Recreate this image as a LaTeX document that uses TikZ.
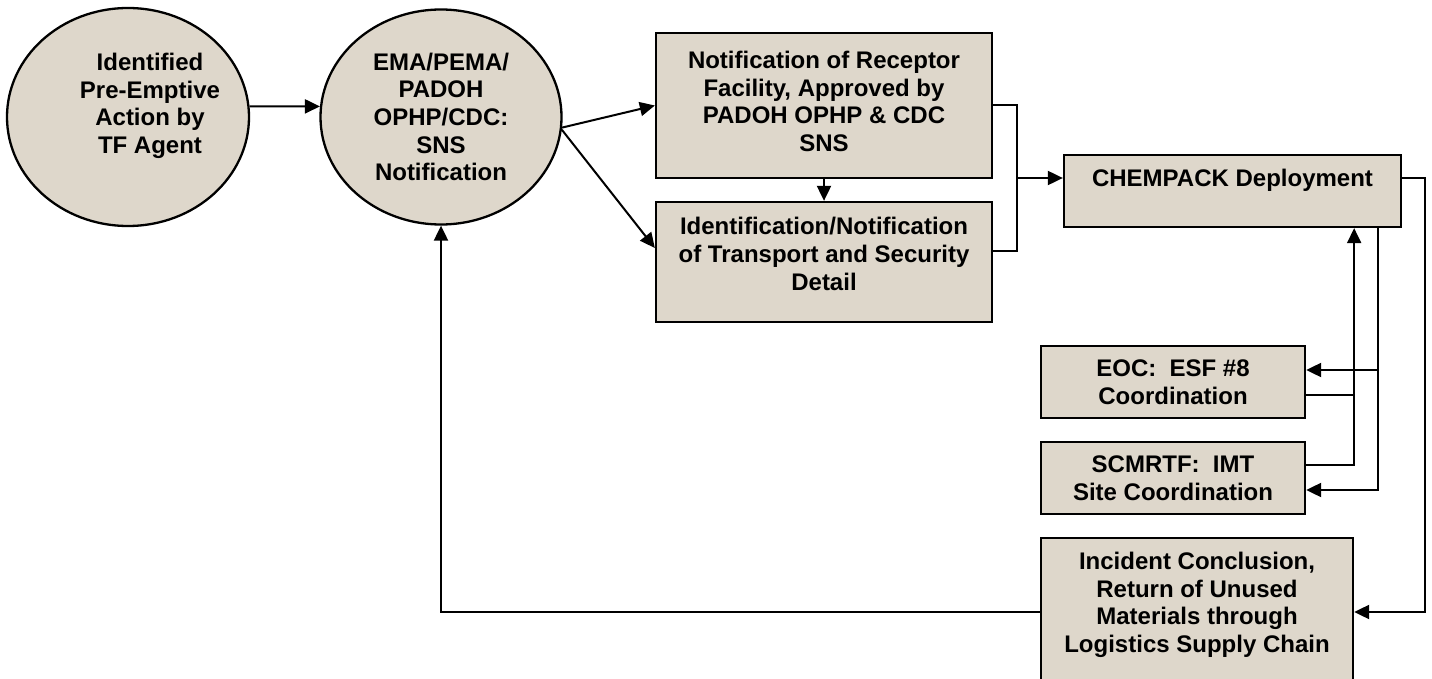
\documentclass[tikz,border=0pt]{standalone}
\usepackage{fontspec}
\setmainfont{Liberation Sans}
\usetikzlibrary{shapes.geometric,arrows.meta,calc}
\definecolor{parch}{RGB}{222,215,203}
\begin{document}
\begin{tikzpicture}[x=1pt,y=-1pt,
  shapebox/.style={draw=black, line width=2.3pt, fill=parch, inner sep=0pt},
  oval/.style={shapebox, ellipse, minimum width=242pt, minimum height=218pt},
  rect/.style={shapebox, rectangle},
  lbl/.style={font=\bfseries\fontsize{24}{27.6}\selectfont, align=center, inner sep=0pt},
  arr/.style={line width=2pt, -{Triangle[length=15pt,width=14pt]}},
  ln/.style={line width=2pt}]
\useasboundingbox (0,0) rectangle (1432,679);
\node[oval, label={[lbl,xshift=22pt,yshift=11pt]center:{Identified\\Pre-Emptive\\Action by\\TF Agent}}] (E1) at (128,117) {};
\node[oval, minimum width=241pt, minimum height=215pt, label={[lbl]center:{EMA/PEMA/\\PADOH\\OPHP/CDC:\\SNS\\Notification}}] (E2) at (441,117) {};
\node[rect, minimum width=336pt, minimum height=145pt, label={[lbl,yshift=4pt]center:{Notification of Receptor\\Facility, Approved by\\PADOH OPHP \& CDC\\SNS}}] (B1) at (824,105.5) {};
\node[rect, minimum width=336pt, minimum height=120pt, label={[lbl,yshift=8pt]center:{Identification/Notification\\of Transport and Security\\Detail}}] (B2) at (824,262) {};
\node[rect, minimum width=337pt, minimum height=72pt, label={[lbl,yshift=11pt]center:{CHEMPACK Deployment}}] (B3) at (1232.5,191) {};
\node[rect, minimum width=264pt, minimum height=72pt, label={[lbl]center:{EOC:\ \ ESF \#8\\Coordination}}] (B4) at (1173,382) {};
\node[rect, minimum width=264pt, minimum height=72pt, label={[lbl]center:{SCMRTF:\ \ IMT\\Site Coordination}}] (B5) at (1173,478) {};
\node[rect, minimum width=312pt, minimum height=148pt, label={[lbl,yshift=7pt]center:{Incident Conclusion,\\Return of Unused\\Materials through\\Logistics Supply Chain}}] (B6) at (1197,612) {};

\draw[arr] (E1.5) -- (E2.175);
\draw[arr] (E2.-5) -- (B1.west);
\draw[arr] (E2.-6) -- ([yshift=14pt]B2.west);
\draw[arr] (B1.south) -- (B2.north);
\coordinate (J) at (1017,178);
\draw[ln] (B1.east) -| (J);
\draw[ln] ([yshift=11pt]B2.east) -| (J);
\draw[arr] (J) -- (J -| B3.west);
\draw[arr] ([yshift=13pt]B3.east) -- ++(23,0) |- (B6.east);
\coordinate (U) at ([xshift=-48pt]B3.south east);
\coordinate (D) at ([xshift=-24pt]B3.south east);
\coordinate (b4o) at ([yshift=-13pt]B4.east);
\coordinate (b4i) at ([yshift=12pt]B4.east);
\coordinate (b5o) at ([yshift=13pt]B5.east);
\coordinate (b5i) at ([yshift=-12pt]B5.east);
\draw[arr] (b5o) -| (U);
\draw[ln] (b4o) -- (b4o -| U);
\draw[arr] (D) |- (b5i);
\draw[arr] (b4i -| D) -- (b4i);
\draw[arr] (B6.west) -| (E2.south);
\end{tikzpicture}
\end{document}
